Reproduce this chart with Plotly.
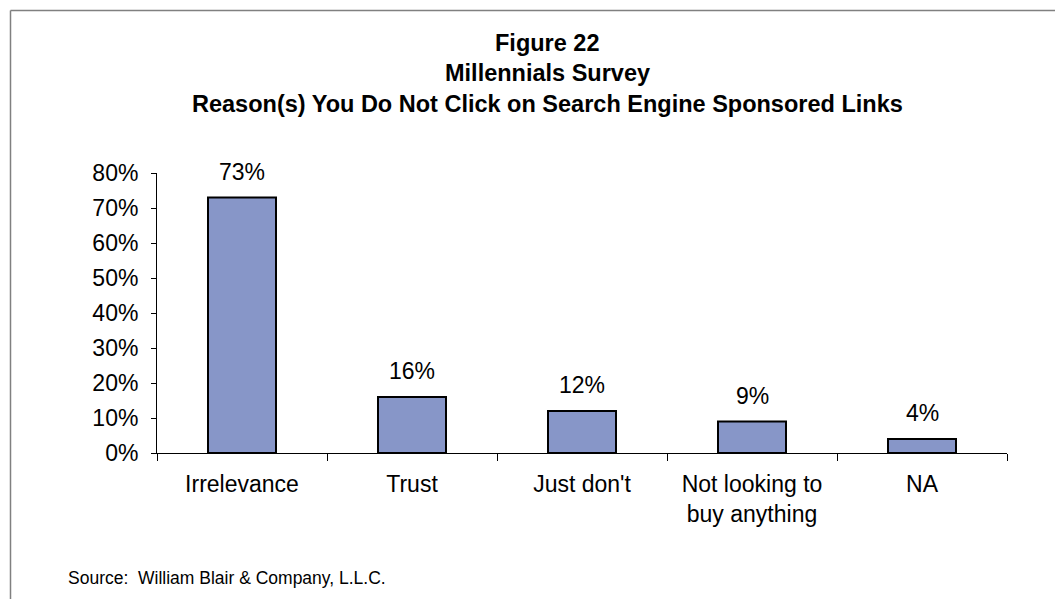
import plotly.graph_objects as go

# Survey responses
categories = ["Irrelevance", "Trust", "Just don't", "Not looking to<br>buy anything", "NA"]
shares = [73, 16, 12, 9, 4]
y_ticks = [0, 10, 20, 30, 40, 50, 60, 70, 80]

title_lines = [
    "Figure 22",
    "Millennials Survey",
    "Reason(s) You Do Not Click on Search Engine Sponsored Links",
]
source_note = "Source:  William Blair & Company, L.L.C."

W, H = 1055, 599
L, R, T, B = 157, 48, 173, 146
PW, PH = W - L - R, H - T - B
FONT = "Liberation Sans, Arial, sans-serif"


def px_x(x):
    """Pixel column -> plot-area paper fraction."""
    return (x - L) / PW


def px_y(y):
    """Pixel row (from top) -> plot-area paper fraction."""
    return (H - B - y) / PH


fig = go.Figure()
fig.add_trace(go.Bar(
    x=categories,
    y=shares,
    width=0.4,
    marker=dict(color="#8796c8", line=dict(color="#000000", width=2)),
    hoverinfo="skip",
))

# value labels above each bar
for cat, val in zip(categories, shares):
    fig.add_annotation(
        x=cat, y=val, xref="x", yref="y",
        text=f"{val}%", showarrow=False,
        yanchor="bottom", yshift=11,
        font=dict(family=FONT, size=23, color="#000000"),
    )

# stacked title lines
for i, line in enumerate(title_lines):
    fig.add_annotation(
        x=px_x(547), y=px_y(42.5 + 30.5 * i), xref="paper", yref="paper",
        text=f"<b>{line}</b>", showarrow=False,
        xanchor="center", yanchor="middle",
        font=dict(family=FONT, size=23.5, color="#000000"),
    )

fig.add_annotation(
    x=px_x(66), y=px_y(578), xref="paper", yref="paper",
    text=source_note, showarrow=False,
    xanchor="left", yanchor="middle",
    font=dict(family=FONT, size=17.5, color="#000000"),
)

# outer frame (left and top edges)
fig.add_shape(type="line", xref="paper", yref="paper",
              x0=px_x(10.5), x1=px_x(10.5), y0=px_y(H + 5), y1=px_y(10.5),
              line=dict(color="#808080", width=1.5))
fig.add_shape(type="line", xref="paper", yref="paper",
              x0=px_x(10.5), x1=px_x(W + 5), y0=px_y(10.5), y1=px_y(10.5),
              line=dict(color="#808080", width=1.5))

fig.update_layout(
    width=W, height=H,
    margin=dict(l=L, r=R, t=T, b=B),
    plot_bgcolor="#ffffff",
    paper_bgcolor="#ffffff",
    showlegend=False,
    font=dict(family=FONT, size=23, color="#000000"),
)
fig.update_xaxes(
    type="category",
    tickson="boundaries",
    ticks="outside", ticklen=7, tickcolor="#000000", tickwidth=1,
    ticklabelstandoff=10,
    showline=True, linecolor="#000000", linewidth=1,
    showgrid=False, zeroline=False,
    tickfont=dict(family=FONT, size=23),
)
fig.update_yaxes(
    range=[0, 80],
    tickmode="array",
    tickvals=y_ticks, ticktext=[f"{v}%" for v in y_ticks],
    ticks="outside", ticklen=5, tickcolor="#000000", tickwidth=1,
    ticklabelstandoff=8,
    showline=True, linecolor="#000000", linewidth=1,
    showgrid=False, zeroline=False,
    tickfont=dict(family=FONT, size=23),
)

fig.write_html("out.html")
